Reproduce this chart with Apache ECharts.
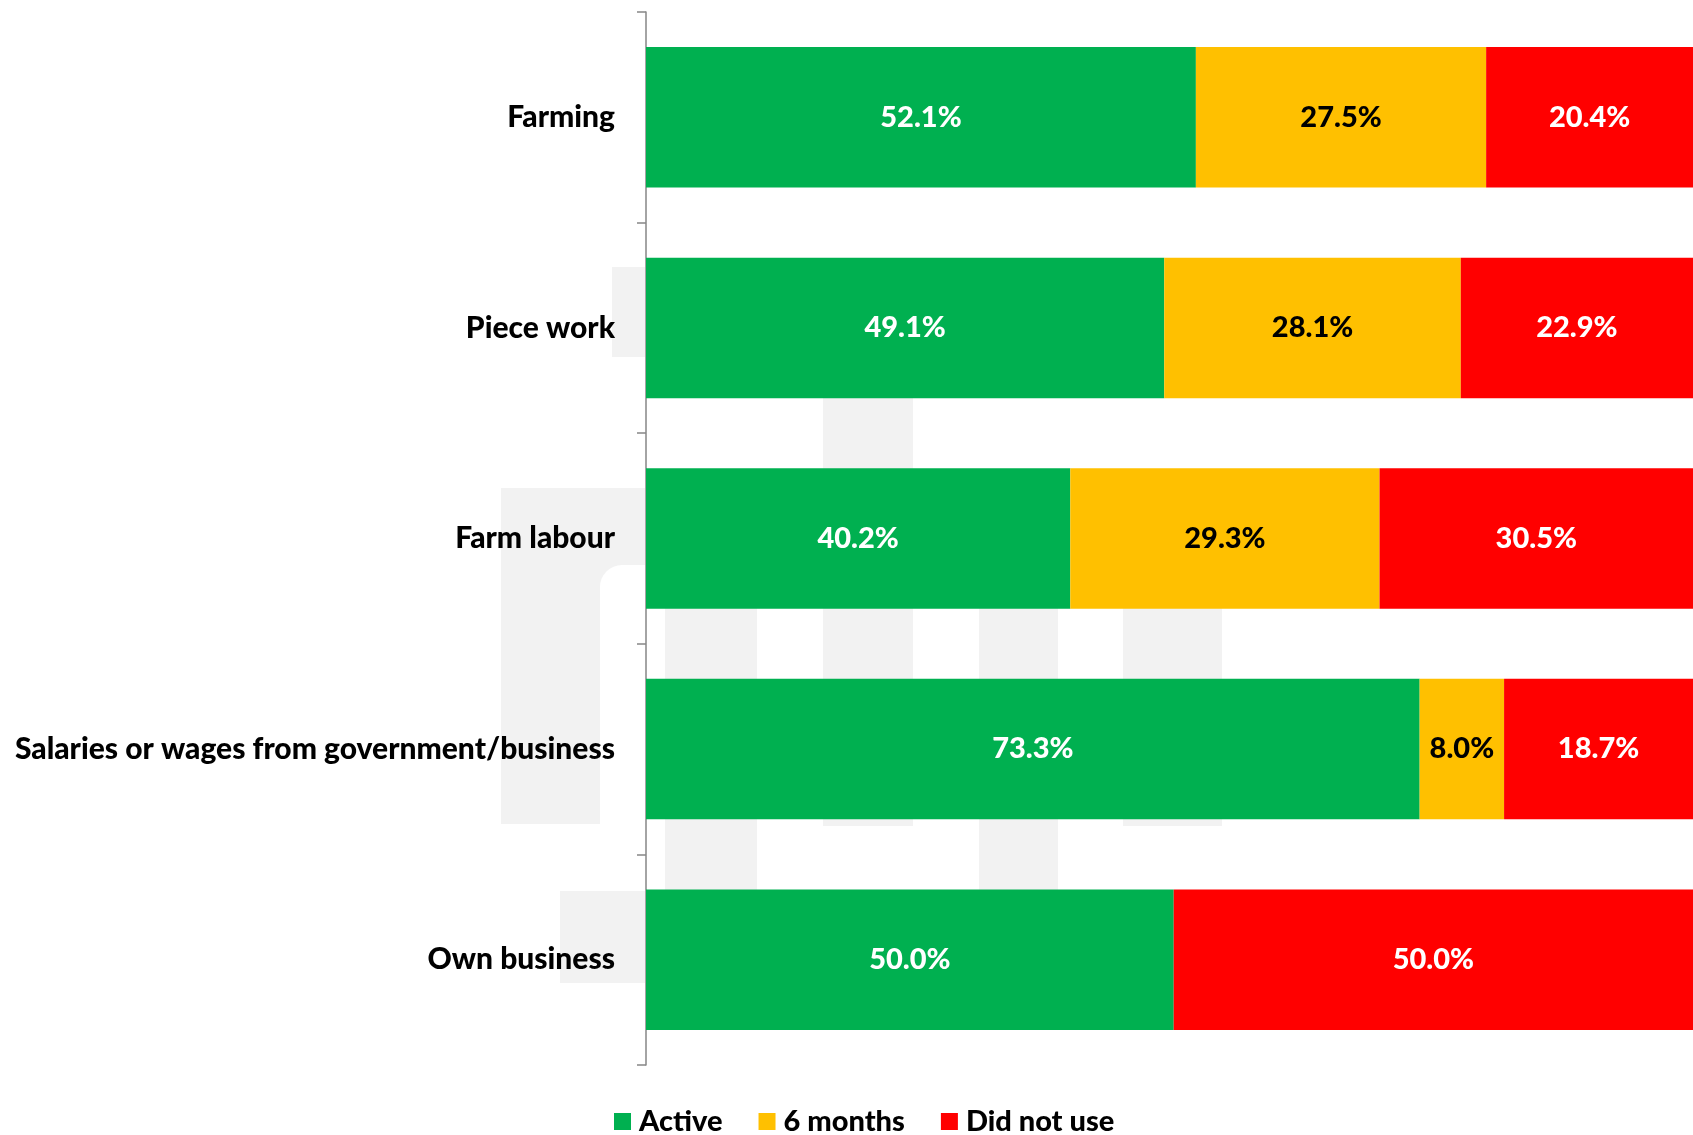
<!DOCTYPE html>
<html>
<head>
<meta charset="utf-8">
<script src="https://cdn.jsdelivr.net/npm/echarts@6/dist/echarts.min.js"></script>
<style>
  html, body { margin: 0; padding: 0; background: #ffffff; }
  #chart { width: 1693px; height: 1135px; }
</style>
</head>
<body>
<div id="chart"></div>
<script>
// Income sources and how each was used
const categories = ['Farming', 'Piece work', 'Farm labour', 'Salaries or wages from government/business', 'Own business'];
const seriesNames = ['Active', '6 months', 'Did not use'];
const active = [52.1, 49.1, 40.2, 73.3, 50.0];
const sixMonths = [27.5, 28.1, 29.3, 8.0, 0];
const didNotUse = [20.4, 22.9, 30.5, 18.7, 50.0];

const FONT = 'Lato';
const WEIGHT = 900;
const colors = ['#00B050', '#FFC000', '#FF0000'];
const labelColors = ['#ffffff', '#000000', '#ffffff'];

const chart = echarts.init(document.getElementById('chart'));

// faint background emblem
const wm = '#f2f2f2';
const emblem = [
  { type: 'rect', shape: { x: 612, y: 267, width: 33, height: 90 } },
  { type: 'rect', shape: { x: 823, y: 300, width: 90, height: 526 } },
  { type: 'rect', shape: { x: 501, y: 488, width: 144, height: 336 } },
  { type: 'rect', shape: { x: 665, y: 520, width: 92, height: 440 } },
  { type: 'rect', shape: { x: 979, y: 520, width: 79, height: 440 } },
  { type: 'rect', shape: { x: 1123, y: 520, width: 99, height: 306 } },
  { type: 'rect', shape: { x: 560, y: 891, width: 85, height: 92 } }
].map(e => Object.assign(e, { style: { fill: wm }, z: -10, silent: true }));
// inner rounded cut of the large emblem shape
emblem.push({
  type: 'rect', shape: { x: 600, y: 565, width: 45, height: 270, r: [22, 0, 0, 0] },
  style: { fill: '#ffffff' }, z: -9, silent: true
});

function makeSeries(name, data, i) {
  return {
    name: name,
    type: 'bar',
    stack: 'total',
    data: data.map(v => (v > 0 ? v : null)),
    barCategoryGap: '33.3%',
    itemStyle: { color: colors[i] },
    label: {
      show: true,
      position: 'inside',
      color: labelColors[i],
      fontFamily: FONT,
      fontWeight: WEIGHT,
      fontSize: 29,
      formatter: p => p.value.toFixed(1) + '%'
    },
    emphasis: { disabled: true }
  };
}

chart.setOption({
  animation: false,
  backgroundColor: '#ffffff',
  graphic: { elements: emblem },
  grid: { left: 646, right: 0, top: 12, bottom: 70, containLabel: false },
  legend: {
    data: seriesNames,
    left: 609,
    top: 1102,
    icon: 'rect',
    itemWidth: 17,
    itemHeight: 17,
    itemGap: 36,
    textStyle: { fontFamily: FONT, fontWeight: WEIGHT, fontSize: 29, color: '#000000', padding: [0, 0, 0, 3] }
  },
  // the stacked bars run slightly past the right edge of the canvas
  xAxis: {
    type: 'value',
    min: 0,
    max: 99.2,
    show: false
  },
  yAxis: {
    type: 'category',
    data: categories,
    inverse: true,
    axisLine: { show: true, lineStyle: { color: '#868686', width: 1.5 } },
    axisTick: { show: true, length: 9, lineStyle: { color: '#868686', width: 1.5 } },
    axisLabel: {
      margin: 31,
      fontFamily: FONT,
      fontWeight: WEIGHT,
      fontSize: 30,
      color: '#000000'
    },
    splitLine: { show: false }
  },
  series: [
    makeSeries(seriesNames[0], active, 0),
    makeSeries(seriesNames[1], sixMonths, 1),
    makeSeries(seriesNames[2], didNotUse, 2)
  ]
});
</script>
</body>
</html>
